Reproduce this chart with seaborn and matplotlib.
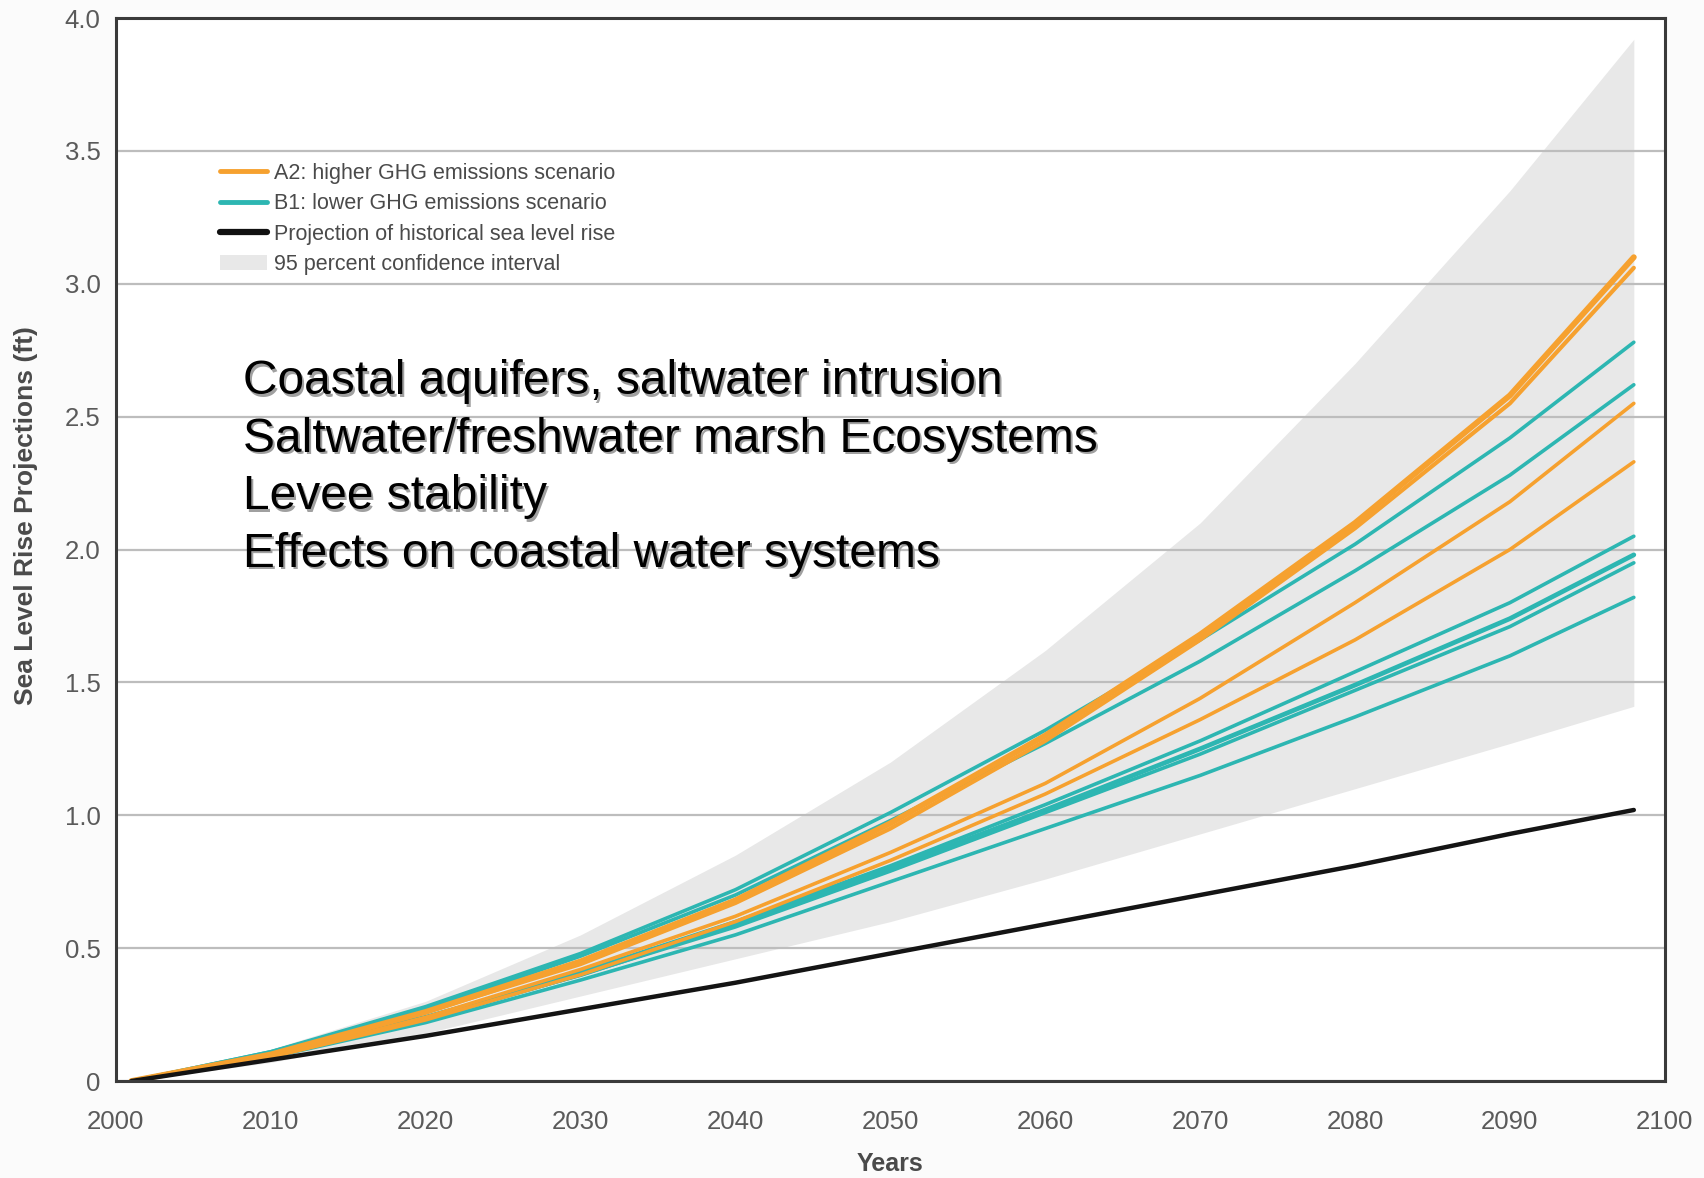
import numpy as np
import pandas as pd
import matplotlib
matplotlib.use("Agg")
import matplotlib.pyplot as plt
import matplotlib.transforms as mtransforms
from matplotlib.lines import Line2D
from matplotlib.patches import Patch
import seaborn as sns

# Years at which the projections are tabulated
years = [2001, 2010, 2020, 2030, 2040, 2050, 2060, 2070, 2080, 2090, 2098]

# A2: higher GHG emissions scenario (ft)
a2_1 = [0, 0.10, 0.26, 0.45, 0.68, 0.97, 1.30, 1.68, 2.10, 2.58, 3.10]
a2_2 = [0, 0.10, 0.26, 0.44, 0.67, 0.95, 1.28, 1.66, 2.08, 2.55, 3.06]
a2_3 = [0, 0.09, 0.24, 0.42, 0.62, 0.86, 1.12, 1.44, 1.80, 2.18, 2.55]
a2_4 = [0, 0.09, 0.23, 0.40, 0.60, 0.83, 1.08, 1.36, 1.66, 2.00, 2.33]

# B1: lower GHG emissions scenario (ft)
b1_1 = [0, 0.11, 0.28, 0.48, 0.72, 1.01, 1.32, 1.66, 2.02, 2.42, 2.78]
b1_2 = [0, 0.11, 0.27, 0.47, 0.70, 0.98, 1.27, 1.58, 1.92, 2.28, 2.62]
b1_3 = [0, 0.10, 0.24, 0.41, 0.60, 0.81, 1.04, 1.28, 1.54, 1.80, 2.05]
b1_4 = [0, 0.10, 0.24, 0.40, 0.59, 0.80, 1.02, 1.25, 1.49, 1.74, 1.98]
b1_5 = [0, 0.10, 0.23, 0.40, 0.58, 0.79, 1.01, 1.23, 1.47, 1.71, 1.95]
b1_6 = [0, 0.09, 0.22, 0.38, 0.55, 0.75, 0.95, 1.15, 1.37, 1.60, 1.82]

# Projection of historical sea level rise (ft)
historical = [0, 0.08, 0.17, 0.27, 0.37, 0.48, 0.59, 0.70, 0.81, 0.93, 1.02]

# 95 percent confidence interval bounds (ft)
ci_low = [0, 0.07, 0.18, 0.32, 0.46, 0.60, 0.76, 0.93, 1.10, 1.27, 1.41]
ci_high = [0, 0.12, 0.30, 0.55, 0.85, 1.20, 1.62, 2.10, 2.70, 3.35, 3.92]

legend_labels = [
    "A2: higher GHG emissions scenario",
    "B1: lower GHG emissions scenario",
    "Projection of historical sea level rise",
    "95 percent confidence interval",
]
impacts = [
    "Coastal aquifers, saltwater intrusion",
    "Saltwater/freshwater marsh Ecosystems",
    "Levee stability",
    "Effects on coastal water systems",
]
y_ticks = [0, 0.5, 1.0, 1.5, 2.0, 2.5, 3.0, 3.5, 4.0]
y_tick_labels = ["0", "0.5", "1.0", "1.5", "2.0", "2.5", "3.0", "3.5", "4.0"]
x_ticks = list(range(2000, 2101, 10))

ORANGE = "#F6A12F"
TEAL = "#2DB6B2"
BAND = "#E8E8E8"

sns.set_theme(style="white")
plt.rcParams["font.family"] = ["Liberation Sans", "DejaVu Sans"]

fig = plt.figure(figsize=(17.04, 11.78), dpi=100, facecolor="#FBFBFB")
ax = fig.add_axes([0.068, 0.0823, 0.909, 0.9024])
ax.set_facecolor("white")

ax.fill_between(years, ci_low, ci_high, color=BAND, linewidth=0, zorder=1)

series = [
    ("A2", a2_1, 4.2), ("A2", a2_2, 3.0), ("A2", a2_3, 2.6), ("A2", a2_4, 2.6),
    ("B1", b1_1, 2.6), ("B1", b1_2, 2.6), ("B1", b1_3, 2.6), ("B1", b1_4, 3.4),
    ("B1", b1_5, 2.6), ("B1", b1_6, 2.6),
]
draw_order = [4, 5, 6, 7, 8, 9, 0, 1, 2, 3]
for k in draw_order:
    scen, vals, lw = series[k]
    df = pd.DataFrame({"year": years, "rise": vals})
    sns.lineplot(data=df, x="year", y="rise", ax=ax,
                 color=ORANGE if scen == "A2" else TEAL,
                 linewidth=lw, zorder=3, solid_capstyle="round")

sns.lineplot(data=pd.DataFrame({"year": years, "rise": historical}),
             x="year", y="rise", ax=ax, color="#141414", linewidth=3.2,
             zorder=4, solid_capstyle="round")

ax.set_xlim(2000, 2100)
ax.set_ylim(0, 4.0)
ax.set_yticks(y_ticks)
ax.set_yticklabels(y_tick_labels)
ax.set_xticks(x_ticks)
ax.yaxis.grid(True, color="#BDBDBD", linewidth=1.6)
ax.set_axisbelow(False)
for gl in ax.get_ygridlines():
    gl.set_zorder(2)
ax.xaxis.grid(False)
ax.tick_params(axis="both", which="major", length=7, width=1, color="#AAAAAA",
               labelcolor="#5A5A5A", labelsize=18.5, direction="out")
ax.tick_params(axis="x", pad=14)
ax.tick_params(axis="y", pad=4)
for s in ax.spines.values():
    s.set_color("#3A3A3A")
    s.set_linewidth(2.2)
    s.set_zorder(5)

ax.set_xlabel("Years", fontsize=18, fontweight="bold", color="#4A4A4A",
              va="center")
ax.set_ylabel("Sea Level Rise Projections (ft)", fontsize=19, fontweight="bold",
              color="#4A4A4A")
ax.xaxis.set_label_coords(0.5, -0.0785)
ax.yaxis.set_label_coords(-0.0504, 0.5315)

handles = [
    Line2D([], [], color=ORANGE, linewidth=3.5),
    Line2D([], [], color=TEAL, linewidth=3.5),
    Line2D([], [], color="#111111", linewidth=4.5),
    Patch(facecolor=BAND, edgecolor="none"),
]
leg = ax.legend(handles, legend_labels, loc="upper left",
                bbox_to_anchor=(0.060, 0.874), frameon=False, fontsize=15.5,
                handlelength=2.2, handletextpad=0.35, labelspacing=0.44,
                borderpad=0)
for t in leg.get_texts():
    t.set_color("#4A4A4A")

# Impact list with a soft drop shadow
line_top = 0.658
shadow_shift = mtransforms.ScaledTranslation(2.5 / 100, -2.5 / 100, fig.dpi_scale_trans)
for i, line in enumerate(impacts):
    ypos = line_top - i * 0.0542
    ax.text(0.082, ypos, line, transform=ax.transAxes + shadow_shift,
            fontsize=34.5, color="#A0A0A0", va="center", ha="left", zorder=5.9)
    ax.text(0.082, ypos, line, transform=ax.transAxes,
            fontsize=34.5, color="black", va="center", ha="left", zorder=6)

fig.savefig("out.png", dpi=100, facecolor=fig.get_facecolor())
